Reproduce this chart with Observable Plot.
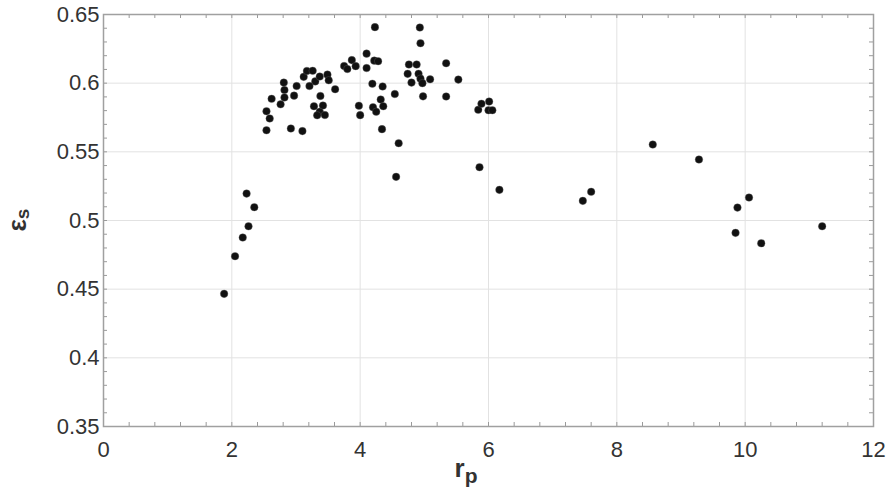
<!DOCTYPE html>
<html><head><meta charset="utf-8">
<script src="https://cdn.jsdelivr.net/npm/d3@7"></script>
<script src="https://cdn.jsdelivr.net/npm/@observablehq/plot@0.6"></script>
<style>body{margin:0;background:#fff} svg{display:block}</style>
</head><body><div id="chart"></div>
<script>
// r_p values (x)
const rp = [
  1.88, 2.05, 2.17, 2.26, 2.23, 2.35,
  2.54, 2.59, 2.54, 2.62, 2.76, 2.81, 2.82, 2.82, 2.92, 2.97, 3.01, 3.10,
  3.12, 3.17, 3.26, 3.30, 3.21, 3.37, 3.49, 3.51, 3.61, 3.38, 3.28, 3.42,
  3.37, 3.33, 3.45,
  3.75, 3.80, 3.87, 3.93, 4.10, 4.10, 4.22, 4.28, 4.23, 4.19, 4.35, 4.54,
  4.32, 4.36, 4.20, 4.25, 3.98, 4.00, 4.34, 4.60, 4.56,
  4.93, 4.94, 4.76, 4.88, 4.74, 4.91, 4.80, 4.94, 4.97, 5.09, 4.98, 5.34,
  5.53, 5.34,
  5.86, 5.84, 5.89, 6.01, 6.00, 6.06, 6.17,
  7.47, 7.60, 8.56, 9.28, 9.88, 10.06, 9.85, 10.25, 11.20
];
// eps_s values (y)
const epsS = [
  0.4466, 0.4740, 0.4876, 0.4958, 0.5196, 0.5097,
  0.5796, 0.5743, 0.5657, 0.5886, 0.5846, 0.6004, 0.5950, 0.5896, 0.5670, 0.5909, 0.5979, 0.5651,
  0.6046, 0.6089, 0.6090, 0.6013, 0.5979, 0.6048, 0.6062, 0.6021, 0.5956, 0.5907, 0.5832, 0.5837,
  0.5791, 0.5766, 0.5768,
  0.6125, 0.6103, 0.6168, 0.6124, 0.6215, 0.6110, 0.6164, 0.6160, 0.6408, 0.5996, 0.5976, 0.5921,
  0.5881, 0.5832, 0.5825, 0.5792, 0.5836, 0.5767, 0.5665, 0.5563, 0.5318,
  0.6405, 0.6291, 0.6136, 0.6136, 0.6068, 0.6068, 0.6004, 0.6033, 0.6000, 0.6028, 0.5904, 0.6145,
  0.6026, 0.5903,
  0.5388, 0.5806, 0.5850, 0.5866, 0.5803, 0.5803, 0.5223,
  0.5143, 0.5209, 0.5553, 0.5444, 0.5094, 0.5167, 0.4910, 0.4834, 0.4958
];
const xTicks = [0, 2, 4, 6, 8, 10, 12];
const yTicks = [0.35, 0.4, 0.45, 0.5, 0.55, 0.6, 0.65];
const xMinor = d3.range(0, 12.001, 0.4);
const yMinor = d3.range(0.35, 0.6501, 0.01);

const W = 889, H = 491, mL = 103, mR = 16, mT = 14, mB = 65;
const pw = W - mL - mR, ph = H - mT - mB;
const data = rp.map((x, i) => ({x, y: epsS[i]}));
const tickColor = "#9a9a9a";

const plot = Plot.plot({
  width: W, height: H,
  marginLeft: mL, marginRight: mR, marginTop: mT, marginBottom: mB,
  style: {fontFamily: "'Liberation Sans', Arial, sans-serif", fontSize: "22px", color: "#333", background: "#fff"},
  x: {domain: [0, 12]},
  y: {domain: [0.35, 0.65]},
  marks: [
    Plot.gridX(xTicks, {stroke: "#e2e2e2", strokeOpacity: 1}),
    Plot.gridY(yTicks, {stroke: "#e2e2e2", strokeOpacity: 1}),
    Plot.ruleX(xMinor, {x: d => d, insetTop: ph - 4, stroke: tickColor}),
    Plot.ruleX(xMinor, {x: d => d, insetBottom: ph - 4, stroke: tickColor}),
    Plot.ruleY(yMinor, {y: d => d, insetRight: pw - 4, stroke: tickColor}),
    Plot.ruleY(yMinor, {y: d => d, insetLeft: pw - 4, stroke: tickColor}),
    Plot.frame({stroke: "#a0a0a0", strokeWidth: 1.5}),
    Plot.axisX({ticks: xTicks, tickSize: 0, tickPadding: 15, fontSize: 22, label: null, tickFormat: d => String(d)}),
    Plot.axisY({ticks: yTicks, tickSize: 0, tickPadding: 4, fontSize: 22, label: null, tickFormat: d => String(+d.toFixed(2))}),
    Plot.dot(data, {x: "x", y: "y", r: 3.8, fill: "#111", stroke: "#666", strokeWidth: 0.6, strokeOpacity: 0.6})
  ]
});
document.getElementById("chart").appendChild(plot);

const svg = d3.select(plot);
const yl = svg.append("text")
  .attr("transform", "translate(26,220) rotate(-90)")
  .attr("text-anchor", "middle")
  .attr("fill", "#333")
  .style("font-family", "'Liberation Sans', Arial, sans-serif")
  .style("font-weight", "bold");
yl.append("tspan").style("font-size", "26px").text("ε");
yl.append("tspan").style("font-size", "19px").attr("dy", 3).text("s");

const xl = svg.append("text")
  .attr("x", 466).attr("y", 477)
  .attr("fill", "#333")
  .style("font-family", "'Liberation Sans', Arial, sans-serif")
  .style("font-weight", "bold");
xl.append("tspan").style("font-size", "26px").text("r");
xl.append("tspan").style("font-size", "21px").attr("dy", 6).text("p");
</script>
</body></html>
